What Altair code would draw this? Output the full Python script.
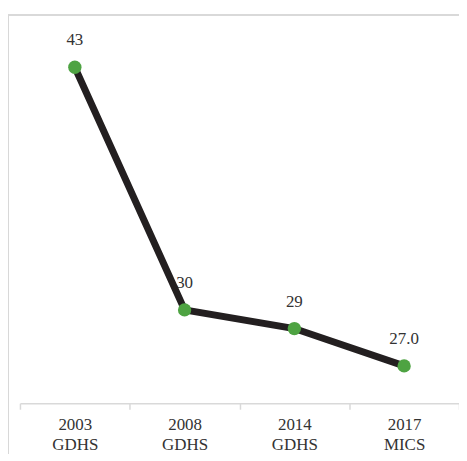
import altair as alt
import pandas as pd

categories = ["2003\nGDHS", "2008\nGDHS", "2014\nGDHS", "2017\nMICS"]
values = [43, 30, 29, 27.0]
value_labels = ["43", "30", "29", "27.0"]

df = pd.DataFrame({"cat": categories, "val": values, "lab": value_labels})

W, H = 441, 375
FONT = "'Liberation Serif', 'DejaVu Serif', serif"

x = alt.X("cat:N", sort=categories, title=None,
          scale=alt.Scale(paddingInner=0, paddingOuter=0),
          axis=alt.Axis(labelAngle=0, labelExpr="split(datum.label, '\\n')",
                        domainColor="#d9d9d9", domainWidth=1.5,
                        tickColor="#d9d9d9", tickWidth=1.5, tickSize=6,
                        tickBand="extent", labelPadding=7,
                        labelFont=FONT, labelFontSize=17,
                        labelColor="#333333", labelLineHeight=20))
y = alt.Y("val:Q", scale=alt.Scale(domain=[25, 45]), axis=None)

base = alt.Chart(df)

text = base.mark_text(dy=-27, font=FONT, fontSize=17,
                      color="#333333").encode(x=x, y=y, text="lab:N")
line = base.mark_line(color="#231f20", strokeWidth=7).encode(x=x, y=y)
pts = base.mark_circle(size=180, color="#4ea342", opacity=1).encode(x=x, y=y)

border_left = base.mark_rule(color="#d9d9d9", strokeWidth=1.5).encode(
    x=alt.value(-12), y=alt.value(-15), y2=alt.value(440))
border_top = base.mark_rule(color="#d9d9d9", strokeWidth=1.5).encode(
    x=alt.value(-12), x2=alt.value(450), y=alt.value(-15))

chart = alt.layer(border_left, border_top, text, line, pts).properties(
    width=W, height=H,
    padding={"left": 12, "top": 21, "right": 0, "bottom": 50},
    autosize=alt.AutoSizeParams(type="none"),
).configure_view(stroke=None)

chart.save("out.html", embed_options={"renderer": "svg", "actions": False})
